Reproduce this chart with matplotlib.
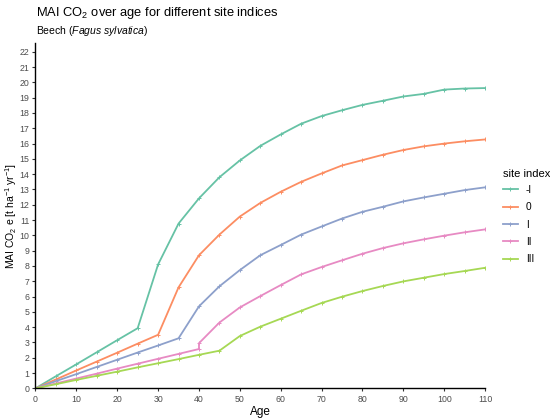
import matplotlib
matplotlib.use("Agg")
import matplotlib.pyplot as plt

plt.rcParams['font.family'] = ['Liberation Sans', 'DejaVu Sans']
plt.rcParams['mathtext.fontset'] = 'custom'
plt.rcParams['mathtext.rm'] = 'Liberation Sans'
plt.rcParams['mathtext.it'] = 'Liberation Sans:italic'

age = [0, 5, 10, 15, 20, 25, 30, 35, 40, 45, 50, 55, 60, 65, 70, 75, 80, 85, 90, 95, 100, 105, 110]
age_II = [0, 5, 10, 15, 20, 25, 30, 35, 40, 40, 45, 50, 55, 60, 65, 70, 75, 80, 85, 90, 95, 100, 105, 110]

si_m1 = [0, 0.79, 1.57, 2.36, 3.15, 3.93, 8.1, 10.77, 12.42, 13.8, 14.9, 15.85, 16.6, 17.3, 17.8, 18.18, 18.53, 18.8, 19.08, 19.25, 19.53, 19.6, 19.63]
si_0 = [0, 0.58, 1.17, 1.75, 2.33, 2.92, 3.5, 6.6, 8.7, 10.05, 11.23, 12.12, 12.85, 13.5, 14.05, 14.57, 14.92, 15.27, 15.58, 15.82, 16.0, 16.15, 16.27]
si_I = [0, 0.47, 0.93, 1.4, 1.87, 2.34, 2.8, 3.27, 5.36, 6.67, 7.73, 8.7, 9.37, 10.05, 10.58, 11.1, 11.54, 11.87, 12.22, 12.48, 12.72, 12.96, 13.14]
si_II = [0, 0.32, 0.64, 0.96, 1.29, 1.61, 1.93, 2.25, 2.57, 2.95, 4.3, 5.29, 6.03, 6.75, 7.45, 7.93, 8.37, 8.8, 9.17, 9.48, 9.74, 9.98, 10.2, 10.39]
si_III = [0, 0.27, 0.55, 0.82, 1.09, 1.37, 1.64, 1.91, 2.19, 2.46, 3.42, 4.03, 4.55, 5.07, 5.58, 5.99, 6.36, 6.69, 6.99, 7.23, 7.47, 7.67, 7.88]

labels = ['-I', '0', 'I', 'II', 'III']
colors = ['#66C2A5', '#FC8D62', '#8DA0CB', '#E78AC3', '#A6D854']
series = [(age, si_m1), (age, si_0), (age, si_I), (age_II, si_II), (age, si_III)]

xticks = list(range(0, 111, 10))
yticks = list(range(0, 23))

fig = plt.figure(figsize=(5.5, 4.18), dpi=100)
ax = fig.add_axes([0.0645, 0.071, 0.8175, 0.827])

for (x, y), lab, c in zip(series, labels, colors):
    ax.plot(x, y, color=c, lw=1.3, marker='+', ms=2.5, mew=0.7, label=lab)

ax.set_xlim(0, 110)
ax.set_ylim(0, 22.6)
ax.set_xticks(xticks)
ax.set_yticks(yticks)
ax.spines['top'].set_visible(False)
ax.spines['right'].set_visible(False)
for s in ['left', 'bottom']:
    ax.spines[s].set_linewidth(1.0)
    ax.spines[s].set_color('black')
ax.spines['bottom'].set_bounds(0, 110)
ax.tick_params(axis='both', length=2.5, width=0.8, color='#333333', labelsize=6.3,
               labelcolor='#4d4d4d', pad=2)
ax.set_xlabel('Age', fontsize=8.5, labelpad=2)
ax.set_ylabel(r'MAI CO$_2$ e [t ha$^{-1}$ yr$^{-1}$]', fontsize=7.5)
ax.yaxis.set_label_coords(-0.037, 0.5)

fig.text(0.0655, 0.988, r'MAI CO$_2$ over age for different site indices', fontsize=9.3,
         ha='left', va='top')
fig.text(0.0655, 0.942, r'Beech ($\mathit{Fagus\ sylvatica}$)', fontsize=7.5,
         ha='left', va='top')

leg = ax.legend(title='site index', loc='upper left', bbox_to_anchor=(1.03, 0.645),
                frameon=False, fontsize=7.3, title_fontsize=8.0, handlelength=1.5,
                labelspacing=0.72, handletextpad=0.8, borderaxespad=0)
leg._legend_box.align = 'left'
leg._legend_box.sep = 4

fig.savefig('out.png', dpi=100)
